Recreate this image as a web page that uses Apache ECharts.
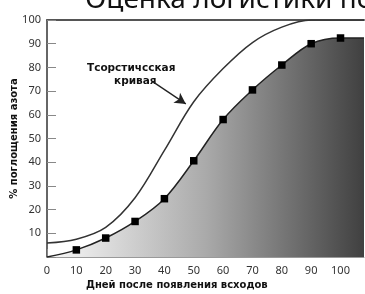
<!DOCTYPE html>
<html>
<head>
<meta charset="utf-8">
<style>
  html, body { margin: 0; padding: 0; background: #fff; }
  #chart { width: 365px; height: 294px; }
</style>
<script src="https://cdn.jsdelivr.net/npm/echarts@6/dist/echarts.min.js"></script>
</head>
<body>
<div id="chart"></div>
<script>
// days after emergence
const days = [0, 10, 20, 30, 40, 50, 60, 70, 80, 90, 100, 108];
// measured nitrogen uptake, %
const measured = [0, 3, 8, 15, 24.6, 40.6, 58, 70.5, 81, 90, 92.4, 92.4];
// theoretical logistic curve, %
const theoretical = [5.9, 7.5, 12.5, 25, 45, 65.5, 79.5, 90.5, 97, 100, 100, 100];

const titleText = 'Оценка логистики потребления азота';
const curveLabel = ['Тсорстичсская', 'кривая'];

const chart = echarts.init(document.getElementById('chart'));

const boldFont = 'DejaVu Sans';

chart.setOption({
  animation: false,
  title: {
    text: titleText,
    left: 85,
    top: -14,
    padding: 0,
    textStyle: { fontFamily: 'Noto Sans', fontSize: 28, fontWeight: 'normal', color: '#111' }
  },
  grid: { left: 47, right: 1, top: 20, bottom: 37, containLabel: false, outerBoundsMode: 'none' },
  xAxis: [{
    type: 'value',
    min: 0,
    max: 108,
    interval: 10,
    axisLine: { show: true, lineStyle: { color: '#999', width: 1 } },
    axisTick: { show: true, inside: true, length: 8, lineStyle: { color: '#888' } },
    axisLabel: {
      margin: 8,
      color: '#333',
      fontFamily: 'Noto Sans',
      fontSize: 11,
      showMaxLabel: false,
      formatter: v => (v <= 100 ? String(v) : '')
    },
    splitLine: { show: false }
  }, {
    type: 'value',
    position: 'top',
    min: 0,
    max: 108,
    axisLine: { show: true, lineStyle: { color: '#555', width: 2 } },
    axisTick: { show: false },
    axisLabel: { show: false },
    splitLine: { show: false }
  }],
  yAxis: {
    type: 'value',
    min: 0,
    max: 100,
    interval: 10,
    name: '% поглощения азота',
    nameLocation: 'middle',
    nameGap: 28,
    nameMoveOverlap: false,
    nameTextStyle: { fontFamily: boldFont, fontWeight: 'bold', fontSize: 10, color: '#111' },
    axisLine: { show: true, lineStyle: { color: '#333', width: 1.5 } },
    axisTick: { show: true, inside: true, length: 9, lineStyle: { color: '#888' } },
    axisLabel: {
      margin: 6,
      color: '#333',
      fontFamily: 'Noto Sans',
      fontSize: 11,
      formatter: v => (v === 0 ? '' : String(v))
    },
    splitLine: { show: false }
  },
  graphic: [{
    type: 'text',
    left: 86,
    top: 280,
    style: {
      text: 'Дней после появления всходов',
      font: 'bold 10px "' + boldFont + '"',
      fill: '#111'
    }
  }, {
    type: 'text',
    left: 87,
    top: 63,
    style: { text: curveLabel[0], font: 'bold 10.5px "' + boldFont + '"', fill: '#111' }
  }, {
    type: 'text',
    left: 114,
    top: 76,
    style: { text: curveLabel[1], font: 'bold 10.5px "' + boldFont + '"', fill: '#111' }
  }],
  series: [{
    type: 'line',
    name: 'theoretical',
    data: days.map((d, i) => [d, theoretical[i]]),
    smooth: 0.35,
    showSymbol: false,
    lineStyle: { color: '#333', width: 1.5 },
    markLine: {
      silent: true,
      symbol: ['none', 'arrow'],
      symbolSize: [9, 11],
      label: { show: false },
      lineStyle: { color: '#222', width: 1.3, type: 'solid' },
      data: [[{ coord: [36, 74] }, { coord: [47.3, 64.6] }]]
    },
    z: 3
  }, {
    type: 'line',
    name: 'measured',
    data: days.map((d, i) => ({
      value: [d, measured[i]],
      symbolSize: (d > 0 && d <= 100) ? 7.5 : 0
    })),
    smooth: 0.35,
    symbol: 'rect',
    itemStyle: { color: '#000' },
    lineStyle: { color: '#222', width: 1.5 },
    areaStyle: {
      opacity: 1,
      color: new echarts.graphic.LinearGradient(0, 0, 1, 0, [
        { offset: 0, color: '#fafafa' },
        { offset: 0.5, color: '#aaaaaa' },
        { offset: 1, color: '#404040' }
      ])
    },
    z: 2
  }]
});
</script>
</body>
</html>
